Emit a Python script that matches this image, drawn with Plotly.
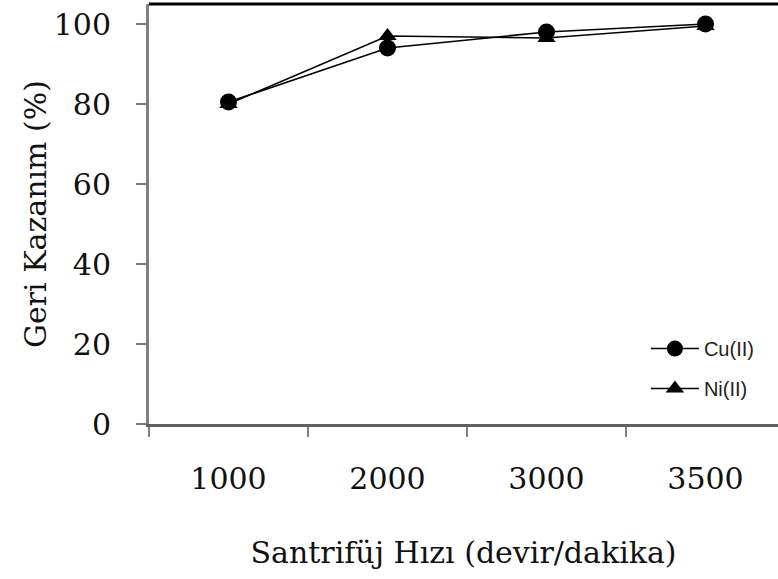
import plotly.graph_objects as go

categories = ["1000", "2000", "3000", "3500"]
cu_values = [80.5, 94, 98, 100]
ni_values = [80, 97, 96.5, 99.5]
y_ticks = [0, 20, 40, 60, 80, 100]

serif = "DejaVu Serif, serif"

fig = go.Figure()
fig.add_trace(go.Scatter(x=categories, y=cu_values, name="Cu(II)", mode="lines+markers",
                         legendgroup="cu",
                         line=dict(color="black", width=1.5),
                         marker=dict(symbol="circle", size=17, color="black")))
fig.add_trace(go.Scatter(x=categories, y=ni_values, name="Ni(II)", mode="lines+markers",
                         legendgroup="ni",
                         line=dict(color="black", width=1.5),
                         marker=dict(symbol="triangle-up", size=16, color="black")))

fig.update_layout(
    width=778, height=579,
    margin=dict(l=149, r=0, t=4, b=155),
    plot_bgcolor="white", paper_bgcolor="white",
    showlegend=True,
    legend=dict(x=0.79, y=0.226, xanchor="left", yanchor="top",
                font=dict(family="Liberation Sans, Arial, sans-serif", size=20, color="#222"),
                bgcolor="rgba(0,0,0,0)", tracegroupgap=11, itemwidth=48),
    xaxis=dict(type="category", range=[-0.5, 3.456], tickson="boundaries",
               ticks="outside", ticklen=10, tickwidth=2, tickcolor="#808080",
               showline=True, linecolor="#606060", linewidth=3,
               showgrid=False, zeroline=False,
               tickfont=dict(family=serif, size=30, color="#111"),
               ticklabelstandoff=26,
               title=dict(text="Santrifüj Hızı (devir/dakika)",
                          font=dict(family=serif, size=30, color="#111"), standoff=47)),
    yaxis=dict(range=[0, 105], tickvals=y_ticks,
               ticks="outside", ticklen=10, tickwidth=2, tickcolor="#808080",
               showline=True, linecolor="#808080", linewidth=3,
               showgrid=False, zeroline=False,
               tickfont=dict(family=serif, size=30, color="#111"),
               ticklabelstandoff=19),
)
fig.add_annotation(text="Geri Kazanım (%)", xref="paper", yref="paper",
                   x=-0.1812, y=0.5, xanchor="center", yanchor="middle",
                   textangle=-90, showarrow=False,
                   font=dict(family=serif, size=30, color="#111"))
fig.add_shape(type="line", xref="paper", yref="paper", x0=0, x1=1, y0=1, y1=1,
              line=dict(color="black", width=3))

fig.write_html("out.html")
